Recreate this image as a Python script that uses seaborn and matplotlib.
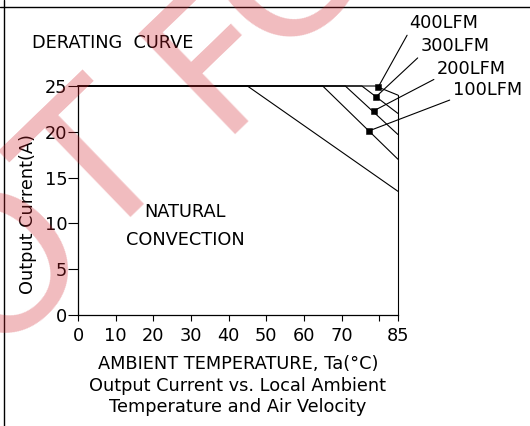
#### Imports ####
import numpy as np
import pandas as pd
import seaborn as sns
import matplotlib.pyplot as plt
from matplotlib.lines import Line2D

#### Data ####
# natural convection: flat, then derating down to 85C
natural_temp = [0, 45, 85]
natural_current = [25, 25, 13.5]

# forced air curves: start of derating (at 25A) and current left at 85C
airflow_labels = ['100LFM', '200LFM', '300LFM', '400LFM']
derate_start_temp = [65, 71, 75.4, 79]
current_at_85 = [17, 19.7, 22, 24]

# dots on each airflow curve (where the label leader lines start)
dot_temp = [77.3, 78.6, 79.1, 79.7]
dot_current = [20.1, 22.3, 23.8, 24.85]

# where the leader lines end / labels sit
label_temp = [99.6, 95.4, 91.1, 87.9]
label_current = [23.6, 25.9, 28.4, 30.9]

xticks = [0, 10, 20, 30, 40, 50, 60, 70, 80, 85]
xtick_labels = ['0', '10', '20', '30', '40', '50', '60', '70', '', '85']
yticks = [0, 5, 10, 15, 20, 25]

#### Build long-form table ####
rows = []
for t, c in zip(natural_temp, natural_current):
    rows.append(('natural', t, c))
for name, t0, c85 in zip(airflow_labels, derate_start_temp, current_at_85):
    rows.append((name, 0, 25))      # full current up to derating point
    rows.append((name, t0, 25))
    rows.append((name, 85, c85))
# outer limit of the safe area (max temp edge)
rows.append(('limit', 85, max(current_at_85)))
rows.append(('limit', 85, 0))
curves = pd.DataFrame(rows, columns=['curve', 'temp', 'current'])
dots = pd.DataFrame({'temp': dot_temp, 'current': dot_current})

#### Style ####
sns.set_style('ticks')
plt.rcParams['font.family'] = ['DejaVu Sans']
plt.rcParams['text.color'] = 'black'
plt.rcParams['axes.labelcolor'] = 'black'
fs = 12.8

fig = plt.figure(figsize=(5.3, 4.26), dpi=100)
ax = fig.add_axes([78/530, 111/426, 320/530, 229/426])
ax.patch.set_alpha(0)

sns.lineplot(data=curves, x='temp', y='current', units='curve', estimator=None,
             sort=False, color='black', lw=0.8, ax=ax, clip_on=False)
sns.scatterplot(data=dots, x='temp', y='current', marker='s', s=22, color='black',
                edgecolor='black', ax=ax, clip_on=False, zorder=5)

for name, dx, dy, lx, ly in zip(airflow_labels, dot_temp, dot_current, label_temp, label_current):
    ax.annotate(name, xy=(dx, dy), xytext=(lx, ly), ha='left', va='bottom',
                fontsize=fs, annotation_clip=False,
                arrowprops=dict(arrowstyle='-', lw=0.8, color='black',
                                shrinkA=0, shrinkB=0, relpos=(0, 0)))

ax.text(28.4, 9.7, 'NATURAL\nCONVECTION', ha='center', va='center',
        fontsize=fs, linespacing=1.7)

ax.set_xlim(0, 85)
ax.set_ylim(0, 25)
ax.set_xticks(xticks)
ax.set_xticklabels(xtick_labels)
ax.set_yticks(yticks)
ax.tick_params(direction='out', width=0.8, labelsize=fs,
               colors='black', labelcolor='black')
ax.tick_params(axis='x', length=4.3, pad=4)
ax.tick_params(axis='y', length=7, pad=0.8)
for s in ['top', 'right']:
    ax.spines[s].set_visible(False)
for s in ['left', 'bottom']:
    ax.spines[s].set_linewidth(0.9)
    ax.spines[s].set_color('black')

ax.set_xlabel('AMBIENT TEMPERATURE, Ta(°C)\nOutput Current vs. Local Ambient\nTemperature and Air Velocity',
              fontsize=fs, linespacing=1.25, va='top')
ax.xaxis.set_label_coords(0.5, -0.175)
ax.set_ylabel('Output Current(A)', fontsize=fs, ha='center', va='center')
ax.yaxis.set_label_coords(-0.156, 0.441)

fig.text(32/530, 1 - 43/426, 'DERATING  CURVE', fontsize=fs, ha='left', va='center')

# page frame (top and left edge only)
fig.add_artist(Line2D([0, 1], [1 - 7/426] * 2, color='black', lw=1.0, transform=fig.transFigure))
fig.add_artist(Line2D([4/530] * 2, [0, 1], color='black', lw=1.0, transform=fig.transFigure))

# pink watermark, rotated, mostly running off the page
for letter, px, py in [('O', 43, 305), ('T', 137, 210), ('F', 256, 96), ('C', 323, 15)]:
    fig.text(px/530, 1 - py/426, letter, fontsize=137, color='#d0202a', alpha=0.3,
             rotation=44, rotation_mode='anchor', ha='center', va='baseline', zorder=10)

fig.savefig('out.png', dpi=100)
